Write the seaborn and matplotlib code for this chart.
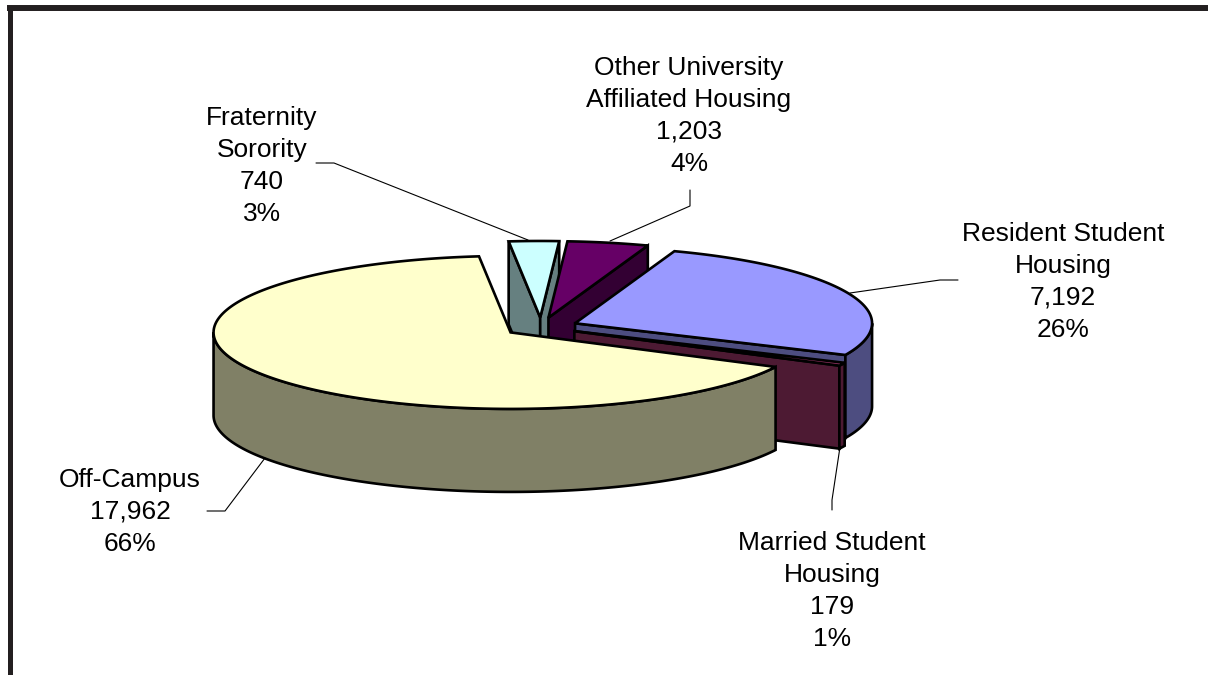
import numpy as np
import seaborn as sns
from matplotlib import pyplot as plt

# clockwise order, starting from the Fraternity slice at the back
names = ['Fraternity\nSorority', 'Other University\nAffiliated Housing',
         'Resident Student\nHousing', 'Married Student\nHousing', 'Off-Campus']
values = [740, 1203, 7192, 179, 17962]
colors = ['#CCFFFF', '#660066', '#9999FF', '#993366', '#FFFFCC']

# label centre for every slice, in pixels
label_x = [262, 689, 1063, 832, 130]
label_y = [166, 116, 282, 591, 512]

# leader lines, in pixels
leader_x = [[316, 334, 528], [690, 690, 610], [958, 940, 850], [832, 832, 840], [207, 225, 265]]
leader_y = [[163, 163, 240], [190, 206, 241], [280, 280, 293], [510, 500, 447], [511, 511, 458]]

# pie geometry in pixels
cx, cy = 541, 327
rx, ry = 297, 76.5
depth = 83
explode = 37
start = -6.1

sns.set_theme(style='white')
plt.rcParams['font.family'] = ['Liberation Sans', 'DejaVu Sans']
palette = sns.color_palette(colors)


def outline(ax, xs, ys, color):
    ax.fill(xs, ys, facecolor=color, edgecolor='black', linewidth=1.9, joinstyle='miter')


def arc(t1, t2, x0, y0):
    t = np.radians(np.linspace(t1, t2, max(int(abs(t2 - t1)) * 2, 2)))
    return x0 + rx * np.sin(t), y0 - ry * np.cos(t)


def draw_slice(ax, t1, t2, color):
    mid = np.radians((t1 + t2) / 2)
    x0 = cx + explode * np.sin(mid)
    y0 = cy - explode * ry / rx * np.cos(mid)
    wall = tuple(c / 2 for c in color)

    # cut faces that look towards the viewer
    for t, visible in ((t1, np.sin(np.radians(t1)) < 0), (t2, np.sin(np.radians(t2)) > 0)):
        if visible:
            ex, ey = arc(t, t, x0, y0)
            xs = [x0, ex[0], ex[0], x0]
            ys = [y0, ey[0], ey[0] + depth, y0 + depth]
            outline(ax, xs, ys, wall)

    # outer wall, only the front half of the ellipse shows
    w1, w2 = max(t1, 90), min(t2, 270)
    if w1 < w2:
        wx, wy = arc(w1, w2, x0, y0)
        outline(ax, np.r_[wx, wx[::-1]], np.r_[wy, wy[::-1] + depth], wall)

    # top face
    tx, ty = arc(t1, t2, x0, y0)
    outline(ax, np.r_[x0, tx], np.r_[y0, ty], color)


fig = plt.figure(figsize=(12.08, 6.75), dpi=100)
ax = fig.add_axes([0, 0, 1, 1])
ax.set_xlim(0, 1208)
ax.set_ylim(675, 0)
ax.axis('off')

# frame, open on the right and at the bottom
ax.plot([7, 1208], [8, 8], color='#231f20', linewidth=4.3, solid_capstyle='butt')
ax.plot([9.5, 9.5], [8, 675], color='#231f20', linewidth=3.6, solid_capstyle='butt')

total = sum(values)
angle = start
for value, color in zip(values, palette):
    sweep = value / total * 360
    draw_slice(ax, angle, angle + sweep, color)
    angle += sweep

for xs, ys in zip(leader_x, leader_y):
    ax.plot(xs, ys, color='black', linewidth=0.8)

for name, value, x, y in zip(names, values, label_x, label_y):
    text = f'{name}\n{value:,}\n{value / total:.0%}'
    ax.text(x, y, text, ha='center', va='center', fontsize=19, color='black', linespacing=1.41)

plt.savefig('out.png', dpi=100)
